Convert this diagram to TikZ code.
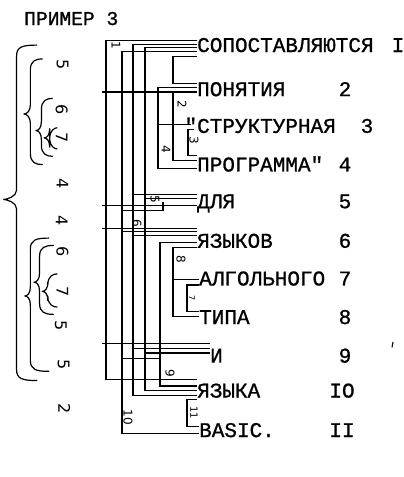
\documentclass[tikz,border=0pt]{standalone}
\usepackage{fontspec}
\usetikzlibrary{calc}
\newfontfamily\tw[FakeBold=1]{Liberation Mono}
\newfontfamily\hw{DejaVu Sans}
\newcommand\fan[3]{\coordinate (#1) at ($(#2.west)+(0,#3)$);}
\newcommand\link[3]{\draw[wire] (#1) -- (#1 -| #2) -- (#3 -| #2) -- (#3);}
\newcommand\hbrace[6]{\draw[brace] (#1,#4) .. controls (#2+6,#4) and (#2,#4+2) .. (#2,#4+12) -- (#2,#5-10) .. controls (#2,#5-3) and (#3+3,#5) .. (#3,#5) .. controls (#3+3,#5) and (#2,#5+3) .. (#2,#5+10) -- (#2,#6-12) .. controls (#2,#6-2) and (#2+6,#6) .. (#1,#6);}
\begin{document}
\begin{tikzpicture}[x=1pt,y=-1pt,
  word/.style={anchor=west, inner sep=0pt, text height=12pt, text depth=0pt, font=\tw\fontsize{21}{23}\selectfont},
  num/.style={anchor=center, inner sep=0pt, text height=12pt, text depth=0pt, font=\tw\fontsize{21}{23}\selectfont},
  lbl/.style={inner sep=0pt, rotate=-90, font=\hw\fontsize{12}{13}\selectfont},
  gap/.style={inner sep=0pt, rotate=-90, font=\hw\fontsize{16}{17}\selectfont},
  wire/.style={line width=1.1pt},
  brace/.style={line width=1.2pt, line cap=round, line join=round}]
\useasboundingbox (0,0) rectangle (404,477);
% title
\node[word, font=\tw\fontsize{19.6}{21}\selectfont] (title) at (24,19) {ПРИМЕР 3};
\begin{scope}[shift={(0,1.9)}, yscale=0.919]
% words
\node[word] (w1) at (197,48) {СОПОСТАВЛЯЮТСЯ};
\node[word] (w2) at (197,96) {ПОНЯТИЯ};
\node[word] (w3) at (197,136) {\llap{"}СТРУКТУРНАЯ};
\node[word] (w4) at (197,178) {ПРОГРАММА"};
\node[word] (w5) at (197,218) {ДЛЯ};
\node[word] (w6) at (197,261) {ЯЗЫКОВ};
\node[word] (w7) at (199,302) {АЛГОЛЬНОГО};
\node[word] (w8) at (199,344) {ТИПА};
\node[word] (w9) at (210,386) {И};
\node[word] (w10) at (197,424) {ЯЗЫКА};
\node[word] (w11) at (199,467) {BASIC.};
% numbers
\node[num] (n1) at (398,48) {I};
\node[num] (n2) at (345,96) {2};
\node[num] (n3) at (367,136) {3};
\node[num] (n4) at (345,178) {4};
\node[num] (n5) at (345,218) {5};
\node[num] (n6) at (345,261) {6};
\node[num] (n7) at (345,302) {7};
\node[num] (n8) at (345,344) {8};
\node[num] (n9) at (345,386) {9};
\node[num] (n10) at (342,424) {IO};
\node[num] (n11) at (342,467) {II};
% vertical line positions
\coordinate (x102) at (102,0);
\coordinate (x106) at (106,0);
\coordinate (x122) at (122,0);
\coordinate (x133) at (133,0);
\coordinate (x145) at (145,0);
\coordinate (x158) at (158,0);
\coordinate (x160) at (160,0);
\coordinate (x163) at (163,0);
\coordinate (x173) at (173,0);
\coordinate (x187) at (187,0);
\coordinate (x188) at (188,0);
% entry points
\fan{f1a}{w1}{-6}\fan{f1b}{w1}{-2}\fan{f1c}{w1}{2}\fan{f1d}{w1}{6}\fan{f1e}{w1}{11}
\fan{f2a}{w2}{-7}\fan{f2b}{w2}{-3}\fan{f2c}{w2}{2}
\coordinate (f3a) at ($(w3.west)+(-6,-3)$);
\coordinate (f3b) at ($(w3.west)+(-3,3)$);
\fan{f4a}{w4}{-11}\fan{f4b}{w4}{-5}\fan{f4c}{w4}{3}
\fan{f5a}{w5}{-8}\fan{f5b}{w5}{-4}\fan{f5c}{w5}{4}\fan{s5}{w5}{9}
\fan{f6a}{w6}{-14}\fan{f6b}{w6}{-11}\fan{f6c}{w6}{-7}\fan{f6d}{w6}{1}\fan{f6e}{w6}{6}
\fan{f7a}{w7}{0}\fan{f7b}{w7}{6}
\fan{f8a}{w8}{-7}\fan{f8b}{w8}{-2}
\fan{f9a}{w9}{-14}\fan{f9b}{w9}{-9}\fan{f9c}{w9}{-4}\fan{s9}{w9}{2}
\fan{f10a}{w10}{-13}\fan{f10b}{w10}{-6}\fan{f10c}{w10}{-1}\fan{f10d}{w10}{4}\fan{f10e}{w10}{9}
\fan{f11a}{w11}{-5}\fan{f11b}{w11}{3}
% long verticals
\link{f1a}{x106}{f10a}
\link{f1d}{x122}{f11b}
\link{f1b}{x133}{f10d}
\link{f1c}{x145}{f10c}
\link{f1e}{x173}{f2a}
\link{f2b}{x158}{f4c}
\draw[wire] (f3a -| x158) -- (f3a);
\draw[wire] (f2c -| x173) -- (f4b -| x173) -- (f4b);
\link{f3b}{x188}{f4a}
% long horizontals from the left
\draw[wire] (f2c -| x102) -- (f2c);
\draw[wire] (f5c -| x102) -- (f5c);
\draw[wire] (f6a -| x102) -- (f6a);
\draw[wire] (f9a -| x102) -- (f9a);
% branches
\draw[wire] (f5a -| x133) -- (f5a);
\draw[wire] (f5b -| x145) -- (f5b);
\draw[wire] (s5 -| x122) -- (s5 -| x163) -- ++(0,-9);
\draw[wire] (f6b -| x122) -- (f6b);
\draw[wire] (f6c -| x133) -- (f6c);
\link{f6d}{x160}{f10b}
\link{f6e}{x173}{f8b}
\draw[wire] (f7a -| x173) -- (f7a);
\link{f7b}{x187}{f8a}
\draw[wire] (f9b -| x133) -- (f9b);
\draw[wire] (f9c -| x145) -- (f9c);
\draw[wire] (s9 -| x122) -- (s9 -| x160);
\link{f10e}{x187}{f11a}
% labels on lines
\node[lbl] (l1) at (116,47) {1};
\node[lbl] (l2) at (182,111) {2};
\node[lbl] (l3) at (194,151) {3};
\node[lbl] (l4) at (166,160) {4};
\node[lbl] (l5) at (155,215) {5};
\node[lbl] (l6) at (137,241) {6};
\node[lbl, font=\hw\fontsize{8}{9}\selectfont] (l7) at (192,322) {7};
\node[lbl] (l8) at (181,280) {8};
\node[lbl] (l9) at (170,404) {9};
\node[lbl] (l10) at (128,452) {10};
\node[lbl, font=\hw\fontsize{10}{11}\selectfont] (l11) at (194,447) {11};
% small mark at right
\draw[wire] (393,370) -- (392,376);
\begin{scope}[xscale=0.92]
% gap digits
\node[gap] (g1) at (68,68) {5};
\node[gap] (g2) at (67,117) {6};
\node[gap] (g3) at (67,148) {7};
\node[gap] (g4) at (68,198) {4};
\node[gap] (g5) at (67,238) {4};
\node[gap] (g6) at (68,272) {6};
\node[gap] (g7) at (68,315) {7};
\node[gap] (g8) at (66,352) {5};
\node[gap] (g9) at (69,395) {5};
\node[gap] (g10) at (70,443) {2};
% braces
\hbrace{40}{18}{4}{47}{215}{412}
\hbrace{46}{33}{26}{62}{122}{177}
\hbrace{57}{45}{39}{105}{140}{168}
\hbrace{62}{54}{48}{137}{148}{160}
\hbrace{53}{33}{27}{257}{320}{402}
\hbrace{58}{43}{37}{265}{305}{340}
\hbrace{62}{52}{46}{296}{315}{332}
\end{scope}
\end{scope}
\end{tikzpicture}
\end{document}
